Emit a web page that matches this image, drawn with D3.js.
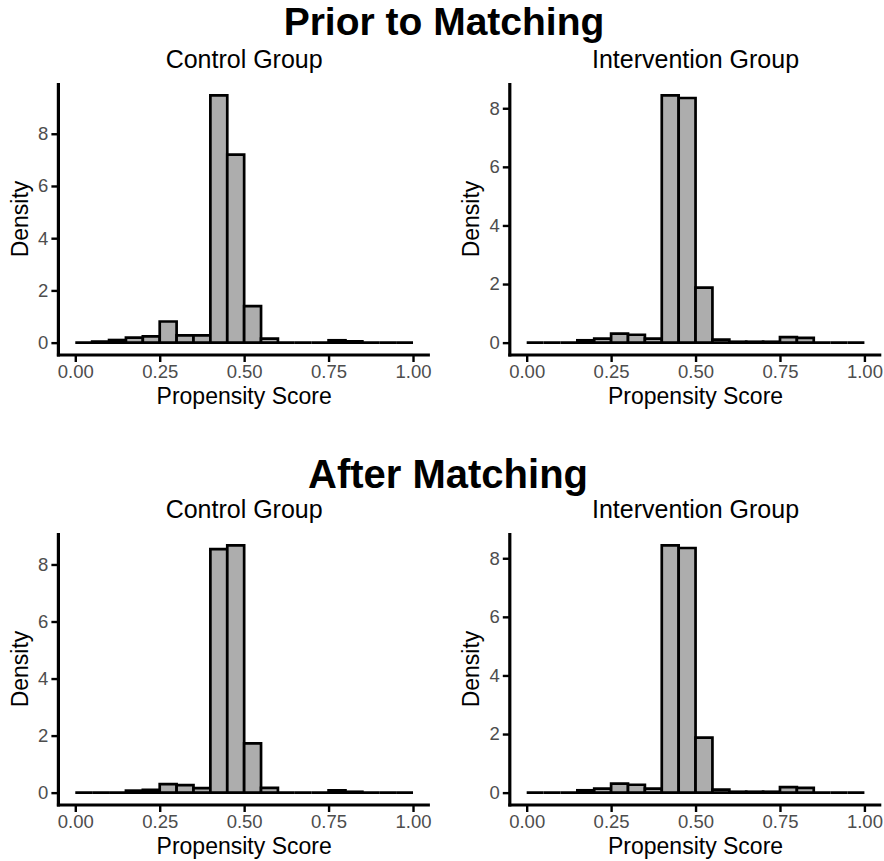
<!DOCTYPE html>
<html>
<head>
<meta charset="utf-8">
<script src="https://cdn.jsdelivr.net/npm/d3@7"></script>
<style>
  html, body { margin: 0; padding: 0; background: #ffffff; }
  svg { display: block; }
  text { font-family: "Liberation Sans", Arial, sans-serif; }
</style>
</head>
<body>
<svg id="chart" width="884" height="861"></svg>
<script>
// ---------------- DATA ----------------
const binStarts = [0.00, 0.05, 0.10, 0.15, 0.20, 0.25, 0.30, 0.35, 0.40, 0.45,
                   0.50, 0.55, 0.60, 0.65, 0.70, 0.75, 0.80, 0.85, 0.90, 0.95];
const binWidth = 0.05;

const priorControl      = [0, 0.04, 0.10, 0.19, 0.24, 0.81, 0.28, 0.28, 9.47, 7.20,
                           1.40, 0.15, 0, 0, 0, 0.09, 0.05, 0, 0, 0];
const priorIntervention = [0, 0, 0, 0.08, 0.14, 0.31, 0.27, 0.14, 8.44, 8.35,
                           1.88, 0.10, 0.03, 0.03, 0.03, 0.19, 0.16, 0, 0, 0];
const afterControl      = [0, 0, 0, 0.07, 0.10, 0.30, 0.26, 0.16, 8.54, 8.67,
                           1.73, 0.17, 0, 0, 0, 0.08, 0.03, 0, 0, 0];
const afterIntervention = [0, 0, 0, 0.08, 0.14, 0.31, 0.27, 0.14, 8.44, 8.35,
                           1.88, 0.10, 0.03, 0.03, 0.03, 0.19, 0.16, 0, 0, 0];

const xTicks = [0, 0.25, 0.5, 0.75, 1.0];
const yTicks = [0, 2, 4, 6, 8];

const sectionTitles = ["Prior to Matching", "After Matching"];
const groupTitles = ["Control Group", "Intervention Group"];
const xAxisTitle = "Propensity Score";
const yAxisTitle = "Density";

// ---------------- LAYOUT ----------------
const svg = d3.select("#chart");
const panelW = 371.5, panelH = 272;
const colLeft = [58.4, 509.8];
const rowTop = [83, 533];
const sectionTitleY = [35.4, 488];
const sectionTitleX = [444, 448];
const sectionTitleSize = [39, 40];

const panels = [
  { values: priorControl,      row: 0, col: 0 },
  { values: priorIntervention, row: 0, col: 1 },
  { values: afterControl,      row: 1, col: 0 },
  { values: afterIntervention, row: 1, col: 1 }
];

sectionTitles.forEach((t, i) => {
  svg.append("text")
    .attr("x", sectionTitleX[i]).attr("y", sectionTitleY[i])
    .attr("text-anchor", "middle")
    .attr("font-size", sectionTitleSize[i]).attr("font-weight", "bold")
    .attr("fill", "#000")
    .text(t);
});

panels.forEach(p => {
  const L = colLeft[p.col], T = rowTop[p.row];
  const g = svg.append("g");
  const x = d3.scaleLinear().domain([-0.05, 1.05]).range([L, L + panelW]);
  const ymax = d3.max(p.values);
  const y = d3.scaleLinear().domain([-0.05 * ymax, 1.05 * ymax]).range([T + panelH, T]);

  // group title
  g.append("text")
    .attr("x", L + panelW / 2).attr("y", T - 15.5)
    .attr("text-anchor", "middle")
    .attr("font-size", 25).attr("fill", "#000")
    .text(groupTitles[p.col]);

  // bars (paths so that zero-height bins still draw their outline)
  g.selectAll("path.bar")
    .data(binStarts.map((s, i) => ({ s, v: p.values[i] })))
    .join("path")
    .attr("class", "bar")
    .attr("d", d => {
      const x0 = x(d.s), x1 = x(d.s + binWidth), y0 = y(0), y1 = y(d.v);
      return `M${x0},${y0}H${x1}V${y1}H${x0}Z`;
    })
    .attr("fill", "#adadad")
    .attr("stroke", "#000")
    .attr("stroke-width", 2.7)
    .attr("stroke-linejoin", "miter");

  // x axis
  const xa = g.append("g")
    .attr("transform", `translate(0,${T + panelH})`)
    .call(d3.axisBottom(x).tickValues(xTicks).tickFormat(d3.format(".2f"))
      .tickSize(7).tickPadding(3));
  xa.select(".domain").remove();
  xa.selectAll(".tick line").attr("stroke", "#000").attr("stroke-width", 2.4);
  xa.selectAll(".tick text").attr("fill", "#4d4d4d").attr("font-size", 18.5)
    .attr("font-family", "Liberation Sans, Arial, sans-serif");

  // y axis
  const ya = g.append("g")
    .attr("transform", `translate(${L},0)`)
    .call(d3.axisLeft(y).tickValues(yTicks).tickFormat(d3.format("d"))
      .tickSize(7).tickPadding(3));
  ya.select(".domain").remove();
  ya.selectAll(".tick line").attr("stroke", "#000").attr("stroke-width", 2.4);
  ya.selectAll(".tick text").attr("fill", "#4d4d4d").attr("font-size", 18.5)
    .attr("font-family", "Liberation Sans, Arial, sans-serif");

  // axis lines
  g.append("line")
    .attr("x1", L - 1.5).attr("x2", L + panelW)
    .attr("y1", T + panelH).attr("y2", T + panelH)
    .attr("stroke", "#000").attr("stroke-width", 3.2);
  g.append("line")
    .attr("x1", L).attr("x2", L)
    .attr("y1", T).attr("y2", T + panelH + 1.5)
    .attr("stroke", "#000").attr("stroke-width", 3.2);

  // axis titles
  g.append("text")
    .attr("x", L + panelW / 2).attr("y", T + panelH + 48.7)
    .attr("text-anchor", "middle")
    .attr("font-size", 23).attr("fill", "#000")
    .text(xAxisTitle);
  g.append("text")
    .attr("transform", `translate(${L - 30.5},${T + panelH / 2}) rotate(-90)`)
    .attr("text-anchor", "middle")
    .attr("font-size", 23).attr("fill", "#000")
    .text(yAxisTitle);
});
</script>
</body>
</html>
